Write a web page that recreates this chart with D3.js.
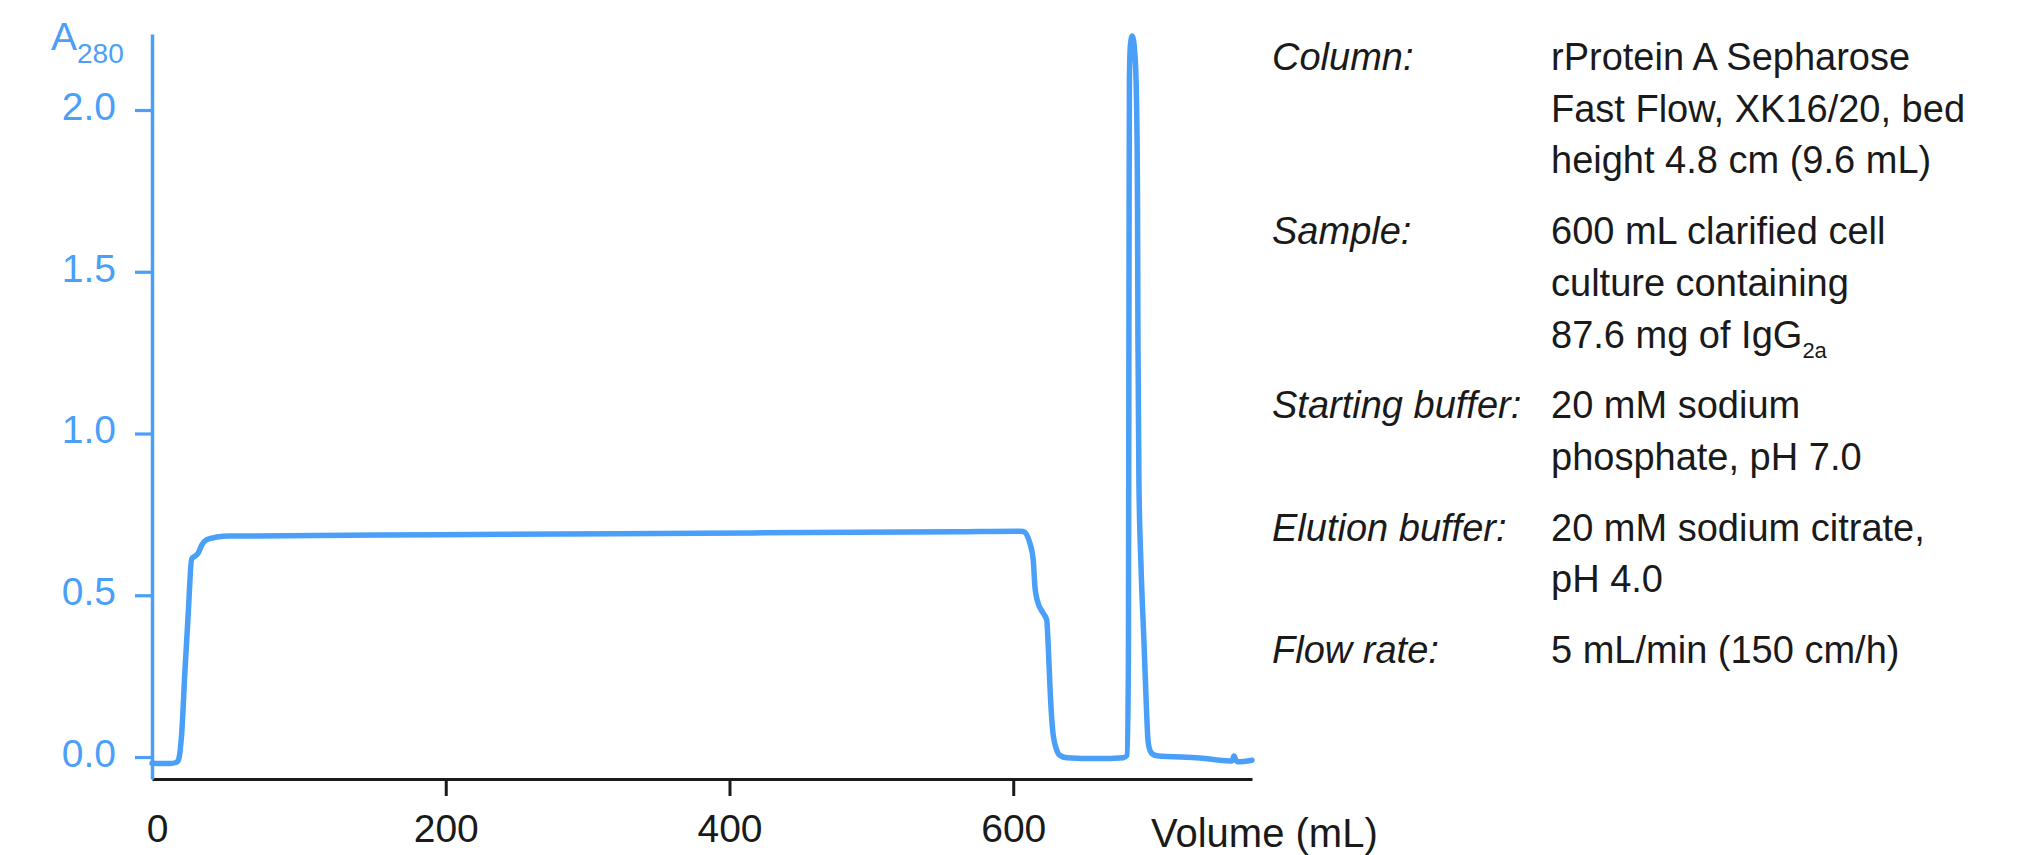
<!DOCTYPE html>
<html><head><meta charset="utf-8">
<script src="https://cdn.jsdelivr.net/npm/d3@7"></script>
<style>body{margin:0;background:#fff}svg{display:block;background:#fff}</style>
</head><body><svg id="c" width="2019" height="855"></svg>
<script>
// ---- data ----
const volume = [-7.0, 5.6, 9.9, 11.5, 13.9, 16.2, 18.5, 20.9, 23.3, 25.6, 28.0, 31.5, 38.6, 47.9, 196, 379, 560, 604.7,
  607.1, 611.8, 614.1, 615.3, 616.9, 621.2, 623.6, 624.7, 625.9, 627.8, 630.6, 632.9, 637.7, 658.8, 677.6,
  680.2, 681.2, 681.6, 681.9, 682.6, 683.9, 685.8, 686.9, 687.6, 687.9, 688.6, 690.0, 692.2, 693.9, 695.0, 696.4, 698.5, 701.3,
  731.6, 752.8, 754.2, 755.6, 757.0, 758.4, 768.3];
const absorbance = [-0.019, -0.02, -0.017, -0.01, 0.074, 0.269, 0.445, 0.612, 0.621, 0.631, 0.655, 0.672, 0.68, 0.683, 0.687, 0.692, 0.696, 0.698,
  0.697, 0.66, 0.609, 0.526, 0.485, 0.444, 0.424, 0.341, 0.217, 0.083, 0.022, 0.005, -0.002, -0.005, -0.002,
  0.005, 0.3, 1.5, 2.1, 2.2, 2.229, 2.17, 2.03, 1.72, 1.3, 0.85, 0.6, 0.35, 0.15, 0.05, 0.02, 0.008, 0.004,
  -0.003, -0.012, -0.012, 0.003, -0.01, -0.015, -0.01];
const xTickValues = [0, 200, 400, 600];
const yTickValues = [0, 0.5, 1.0, 1.5, 2.0];
const xTitle = "Volume (mL)";
const yTitleMain = "A";
const yTitleSub = "280";
const paramLabels = ["Column:", "Sample:", "Starting buffer:", "Elution buffer:", "Flow rate:"];
const paramValues = [
  ["rProtein A Sepharose", "Fast Flow, XK16/20, bed", "height 4.8 cm (9.6 mL)"],
  ["600 mL clarified cell", "culture containing", "87.6 mg of IgG_2a"],
  ["20 mM sodium", "phosphate, pH 7.0"],
  ["20 mM sodium citrate,", "pH 4.0"],
  ["5 mL/min (150 cm/h)"]
];

// ---- drawing ----
const BLUE = "#4a9ff8", INK = "#1a1a1a", FONT = "'Liberation Sans', Arial, sans-serif";
const svg = d3.select("#c");
const x = d3.scaleLinear().domain([-7.05, 768.3]).range([152, 1252]);
const y = d3.scaleLinear().domain([-0.068, 2.235]).range([779, 34]);

const xAxis = svg.append("g").attr("transform", "translate(0,779)")
  .call(d3.axisBottom(x).tickValues(xTickValues).tickSize(17).tickSizeOuter(0).tickFormat(d3.format("d")));
xAxis.select(".domain").attr("stroke", INK).attr("stroke-width", 3.2);
xAxis.selectAll(".tick line").attr("stroke", INK).attr("stroke-width", 3)
  .attr("display", d => d === 0 ? "none" : null);
xAxis.selectAll(".tick text").attr("fill", INK).attr("font-size", 39).attr("font-family", FONT)
  .attr("y", 63).attr("dy", 0).attr("dx", d => d === 0 ? -5 : 0);

const yAxis = svg.append("g").attr("transform", "translate(152,0)")
  .call(d3.axisLeft(y).tickValues(yTickValues).tickSize(17).tickSizeOuter(0).tickFormat(d3.format(".1f")));
yAxis.select(".domain").attr("stroke", BLUE).attr("stroke-width", 3.5);
yAxis.selectAll(".tick line").attr("stroke", BLUE).attr("stroke-width", 3.2);
yAxis.selectAll(".tick text").attr("fill", BLUE).attr("font-size", 39).attr("font-family", FONT)
  .attr("x", -36).attr("dy", "0.24em");

const pts = volume.map((v, i) => [v, absorbance[i]]);
svg.append("path").datum(pts)
  .attr("fill", "none").attr("stroke", BLUE).attr("stroke-width", 5.5)
  .attr("stroke-linejoin", "round").attr("stroke-linecap", "round")
  .attr("d", d3.line().x(d => x(d[0])).y(d => y(d[1])).curve(d3.curveMonotoneX));

// axis titles
const yt = svg.append("text").attr("x", 51).attr("y", 50).attr("fill", BLUE)
  .attr("font-family", FONT).attr("font-size", 39).text(yTitleMain);
yt.append("tspan").attr("font-size", 28).attr("dy", 12.5).text(yTitleSub);

svg.append("text").attr("x", 1151).attr("y", 847).attr("fill", INK)
  .attr("font-family", FONT).attr("font-size", 40).text(xTitle);

// parameter text block
const lineH = 51.7, blockGap = 19;
let base = 70;
paramLabels.forEach((lab, i) => {
  svg.append("text").attr("x", 1272).attr("y", base).attr("fill", INK)
    .attr("font-family", FONT).attr("font-size", 38).attr("font-style", "italic").text(lab);
  paramValues[i].forEach((ln, j) => {
    const t = svg.append("text").attr("x", 1551).attr("y", base + j * lineH).attr("fill", INK)
      .attr("font-family", FONT).attr("font-size", 38);
    const parts = ln.split("_");
    t.append("tspan").text(parts[0]);
    if (parts.length > 1) t.append("tspan").attr("font-size", 22).attr("dy", 10).text(parts[1]);
  });
  base += paramValues[i].length * lineH + blockGap;
});
</script></body></html>
